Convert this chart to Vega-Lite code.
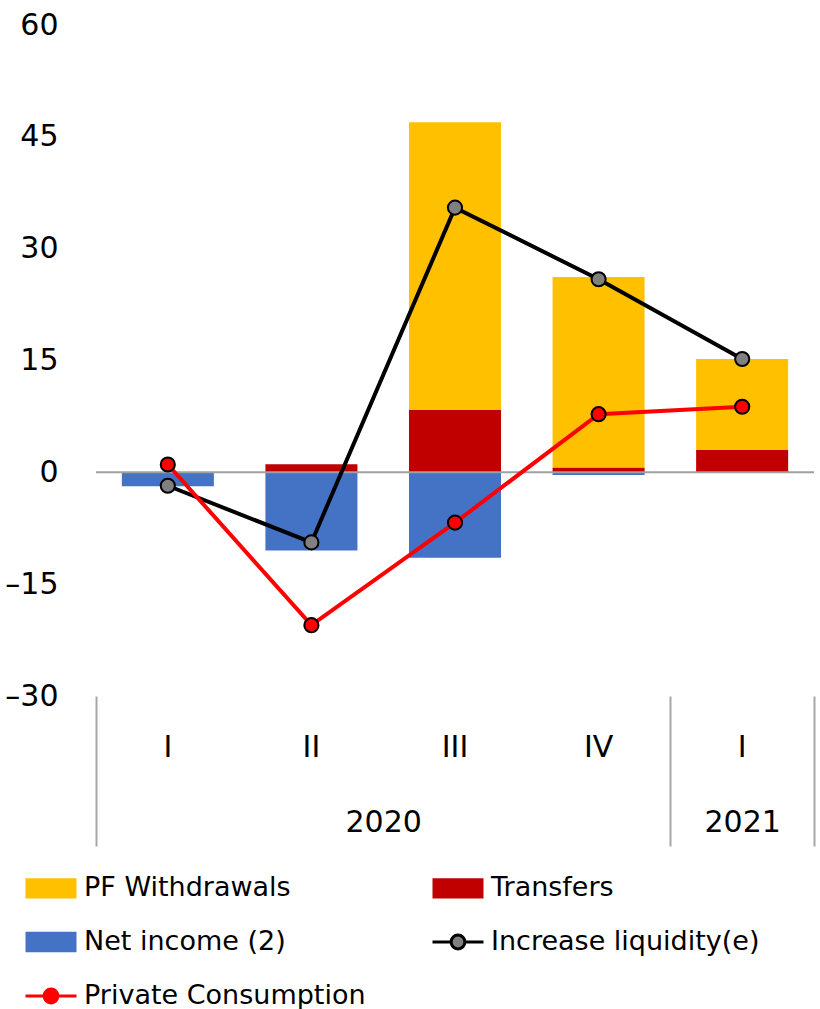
{
  "$schema": "https://vega.github.io/schema/vega-lite/v6.json",
  "width": 718,
  "height": 671,
  "autosize": {"type": "none"},
  "padding": {"left": 96, "top": 25, "right": 6, "bottom": 313},
  "background": "white",
  "config": {
    "font": "DejaVu Sans",
    "view": {"stroke": null},
    "axis": {"domain": false, "grid": false, "labelColor": "#000000", "labelFont": "DejaVu Sans"}
  },
  "datasets": {
    "bars": [
      {"period": "2020 I", "series": "PF Withdrawals", "value": 0},
      {"period": "2020 I", "series": "Transfers", "value": -0.1},
      {"period": "2020 I", "series": "Net income (2)", "value": -1.75},
      {"period": "2020 II", "series": "PF Withdrawals", "value": 0},
      {"period": "2020 II", "series": "Transfers", "value": 1.1},
      {"period": "2020 II", "series": "Net income (2)", "value": -10.5},
      {"period": "2020 III", "series": "PF Withdrawals", "value": 38.6},
      {"period": "2020 III", "series": "Transfers", "value": 8.35},
      {"period": "2020 III", "series": "Net income (2)", "value": -11.45},
      {"period": "2020 IV", "series": "PF Withdrawals", "value": 25.6},
      {"period": "2020 IV", "series": "Transfers", "value": 0.6},
      {"period": "2020 IV", "series": "Net income (2)", "value": -0.35},
      {"period": "2021 I", "series": "PF Withdrawals", "value": 12.2},
      {"period": "2021 I", "series": "Transfers", "value": 3.0},
      {"period": "2021 I", "series": "Net income (2)", "value": 0}
    ],
    "lines": [
      {"period": "2020 I", "series": "Increase liquidity(e)", "value": -1.8},
      {"period": "2020 II", "series": "Increase liquidity(e)", "value": -9.4},
      {"period": "2020 III", "series": "Increase liquidity(e)", "value": 35.5},
      {"period": "2020 IV", "series": "Increase liquidity(e)", "value": 25.9},
      {"period": "2021 I", "series": "Increase liquidity(e)", "value": 15.2},
      {"period": "2020 I", "series": "Private Consumption", "value": 1.05},
      {"period": "2020 II", "series": "Private Consumption", "value": -20.5},
      {"period": "2020 III", "series": "Private Consumption", "value": -6.75},
      {"period": "2020 IV", "series": "Private Consumption", "value": 7.8},
      {"period": "2021 I", "series": "Private Consumption", "value": 8.8}
    ],
    "years": [
      {"year": "2020", "pos": 2},
      {"year": "2021", "pos": 4.5}
    ],
    "bounds": [
      {"pos": 0},
      {"pos": 4},
      {"pos": 5}
    ]
  },
  "resolve": {"scale": {"x": "independent"}},
  "layer": [
    {
      "data": {"name": "bars"},
      "mark": {"type": "bar"},
      "encoding": {
        "x": {
          "field": "period", "type": "nominal", "sort": null,
          "scale": {"paddingInner": 0.359, "paddingOuter": 0.18},
          "axis": {
            "orient": "bottom",
            "title": null, "ticks": false, "tickSize": 0, "labelAngle": 0,
            "labelFontSize": 30, "labelPadding": 36,
            "labelExpr": "split(datum.label, ' ')[1]"
          }
        },
        "y": {
          "field": "value", "type": "quantitative", "stack": "zero",
          "scale": {"domain": [-30, 60], "nice": false, "zero": false},
          "axis": {
            "title": null, "ticks": false, "tickSize": 0, "labelFontSize": 30,
            "labelPadding": 38, "values": [-30, -15, 0, 15, 30, 45, 60],
            "labelExpr": "datum.value < 0 ? '–' + abs(datum.value) : datum.label"
          }
        },
        "color": {
          "field": "series", "type": "nominal",
          "scale": {
            "domain": ["PF Withdrawals", "Transfers", "Net income (2)", "Increase liquidity(e)", "Private Consumption"],
            "range": ["#FFC000", "#C00000", "#4472C4", "#808080", "#FF0000"]
          },
          "legend": {
            "title": null, "orient": "none", "legendX": -72, "legendY": 836,
            "direction": "horizontal",
            "columns": 2, "columnPadding": 60, "rowPadding": 10, "padding": 0,
            "symbolSize": 2601, "symbolStrokeWidth": 3,
            "labelFont": "DejaVu Sans", "labelFontSize": 27, "labelColor": "#000000",
            "labelOffset": 6, "labelLimit": 500,
            "encode": {
              "symbols": {
                "update": {
                  "shape": {"signal": "datum.label == 'Increase liquidity(e)' || datum.label == 'Private Consumption' ? 'M-1,0H-0.27M0.27,0H1M-0.27,0A0.27,0.27,0,1,1,0.27,0A0.27,0.27,0,1,1,-0.27,0Z' : 'M-1,-0.4H1V0.4H-1Z'"},
                  "stroke": {"signal": "datum.label == 'Increase liquidity(e)' ? '#000000' : datum.label == 'Private Consumption' ? '#FF0000' : 'transparent'"},
                  "strokeWidth": {"value": 3},
                  "opacity": {"value": 1},
                  "fillOpacity": {"value": 1}
                }
              }
            }
          }
        },
        "order": {"field": "series", "sort": "descending"}
      }
    },
    {
      "data": {"values": [{}]},
      "mark": {"type": "rule", "color": "#A0A0A0", "strokeWidth": 2},
      "encoding": {"y": {"datum": 0}}
    },
    {
      "data": {"name": "lines"},
      "mark": {"type": "line", "strokeWidth": 4},
      "encoding": {
        "x": {
          "field": "period", "type": "nominal", "sort": null,
          "scale": {"paddingInner": 0.359, "paddingOuter": 0.18},
          "axis": null
        },
        "y": {"field": "value", "type": "quantitative"},
        "stroke": {
          "field": "series", "type": "nominal",
          "scale": {"domain": ["Increase liquidity(e)", "Private Consumption"], "range": ["#000000", "#FF0000"]},
          "legend": null
        }
      }
    },
    {
      "data": {"name": "lines"},
      "mark": {"type": "point", "filled": true, "size": 200, "stroke": "#000000", "strokeWidth": 2, "opacity": 1},
      "encoding": {
        "x": {
          "field": "period", "type": "nominal", "sort": null,
          "scale": {"paddingInner": 0.359, "paddingOuter": 0.18},
          "axis": null
        },
        "y": {"field": "value", "type": "quantitative"},
        "color": {
          "field": "series", "type": "nominal",
          "scale": {
            "domain": ["PF Withdrawals", "Transfers", "Net income (2)", "Increase liquidity(e)", "Private Consumption"],
            "range": ["#FFC000", "#C00000", "#4472C4", "#808080", "#FF0000"]
          }
        }
      }
    },
    {
      "data": {"name": "years"},
      "mark": {"type": "point", "opacity": 0},
      "encoding": {
        "x": {
          "field": "pos", "type": "quantitative",
          "scale": {"domain": [0, 5], "nice": false, "zero": false},
          "axis": {
            "orient": "bottom",
            "title": null, "ticks": false, "tickSize": 0, "grid": false,
            "values": [2, 4.5], "labelFontSize": 30, "labelPadding": 111,
            "labelExpr": "datum.value == 2 ? '2020' : '2021'"
          }
        }
      }
    },
    {
      "data": {"name": "bounds"},
      "mark": {"type": "point", "opacity": 0},
      "encoding": {
        "x": {
          "field": "pos", "type": "quantitative",
          "scale": {"domain": [0, 5], "nice": false, "zero": false},
          "axis": {
            "orient": "bottom",
            "title": null, "labels": false, "ticks": true, "tickSize": 150,
            "tickColor": "#A6A6A6", "tickWidth": 2, "grid": false,
            "values": [0, 4, 5]
          }
        }
      }
    }
  ]
}
